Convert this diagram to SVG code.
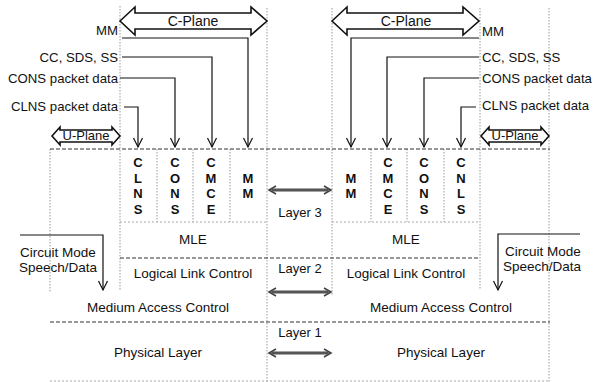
<svg xmlns="http://www.w3.org/2000/svg" width="594" height="382" viewBox="0 0 594 382">
<style>
text{font-family:"Liberation Sans",Arial,sans-serif;fill:#111}
.lbl{font-size:13.2px}
.t13{font-size:13px}
.t135{font-size:13.5px}
.cm{font-size:13.5px}
.mid{text-anchor:middle}
.end{text-anchor:end}
.col{font-size:13px;font-weight:bold;text-anchor:middle}
.vdot{stroke:#999;stroke-width:1;stroke-dasharray:1.5 1.5;fill:none}
.hdash{stroke:#333;stroke-width:1.2;stroke-dasharray:4 2;fill:none}
.hlight{stroke:#aaa;stroke-width:1;stroke-dasharray:2 2;fill:none}
.conn{stroke:#111;stroke-width:1.2;fill:none}
.plane{stroke:#111;stroke-width:1.6;fill:#fff}
.larr{stroke:#888;stroke-width:3.5;fill:none}
.larri{stroke:#222;stroke-width:1.1;fill:none}
</style>
<defs>
<marker id="ah" markerUnits="userSpaceOnUse" markerWidth="12" markerHeight="12" viewBox="0 0 12 12" refX="10" refY="6" orient="auto">
<path d="M1,1.5 L10,6 L1,10.5" fill="none" stroke="#111" stroke-width="1.2"/>
</marker>
</defs>
<rect width="594" height="382" fill="#fff"/>

<g id="grid">
<path class="vdot" d="M120,6V290 M267,8V382 M332,8V295 M480,8V290 M549,8V382 M50,149V292"/>
<path class="vdot" d="M157,149V222 M193,149V222 M230,149V222 M371,149V222 M407,149V222 M444,149V222"/>
<path class="hlight" d="M120,222H267 M332,222H480"/>
<path class="hdash" d="M50,149H550 M120,258H480 M50,322H550"/>
<path class="hlight" d="M50,381H550"/>
</g>

<g id="left-cplane">
<path class="plane" d="M120,21 L135,7 L135,13 L251,13 L251,7 L267,21 L251,35 L251,29 L135,29 L135,35 Z"/>
<text class="mid" x="193" y="26" style="font-size:14px">C-Plane</text>
</g>
<g id="right-cplane">
<path class="plane" d="M332,21 L347,7 L347,13 L463,13 L463,7 L479,21 L463,35 L463,29 L347,29 L347,35 Z"/>
<text class="mid" x="406" y="26" style="font-size:14px">C-Plane</text>
</g>
<g id="left-uplane">
<path class="plane" d="M52,136 L60,127 L60,130 L112,130 L112,127 L120,136 L112,145 L112,142 L60,142 L60,145 Z"/>
<text class="mid t13" x="86" y="140">U-Plane</text>
</g>
<g id="right-uplane">
<path class="plane" d="M481,136 L489,127 L489,130 L541,130 L541,127 L549,136 L541,145 L541,142 L489,142 L489,145 Z"/>
<text class="mid t13" x="515" y="140">U-Plane</text>
</g>

<g id="left-labels">
<text class="lbl end" x="118" y="35">MM</text>
<text class="lbl end" x="118" y="62">CC, SDS, SS</text>
<text class="lbl end" x="118" y="83">CONS packet data</text>
<text class="lbl end" x="118" y="111">CLNS packet data</text>
</g>
<g id="right-labels">
<text class="lbl" x="482" y="36">MM</text>
<text class="lbl" x="482" y="62">CC, SDS, SS</text>
<text class="lbl" x="482" y="83">CONS packet data</text>
<text class="lbl" x="482" y="110">CLNS packet data</text>
</g>

<g id="left-clns"><text class="col" x="138"><tspan x="138" y="167">C</tspan><tspan x="138" y="183">L</tspan><tspan x="138" y="198">N</tspan><tspan x="138" y="214">S</tspan></text></g>
<g id="left-cons"><text class="col" x="175"><tspan x="175" y="167">C</tspan><tspan x="175" y="183">O</tspan><tspan x="175" y="198">N</tspan><tspan x="175" y="214">S</tspan></text></g>
<g id="left-cmce"><text class="col" x="211"><tspan x="211" y="167">C</tspan><tspan x="211" y="183">M</tspan><tspan x="211" y="198">C</tspan><tspan x="211" y="214">E</tspan></text></g>
<g id="left-mm"><text class="col" x="248"><tspan x="248" y="183">M</tspan><tspan x="248" y="198">M</tspan></text></g>

<g id="right-mm"><text class="col" x="351"><tspan x="351" y="183">M</tspan><tspan x="351" y="198">M</tspan></text></g>
<g id="right-cmce"><text class="col" x="388"><tspan x="388" y="167">C</tspan><tspan x="388" y="183">M</tspan><tspan x="388" y="198">C</tspan><tspan x="388" y="214">E</tspan></text></g>
<g id="right-cons"><text class="col" x="424"><tspan x="424" y="167">C</tspan><tspan x="424" y="183">O</tspan><tspan x="424" y="198">N</tspan><tspan x="424" y="214">S</tspan></text></g>
<g id="right-cnls"><text class="col" x="461"><tspan x="461" y="167">C</tspan><tspan x="461" y="183">N</tspan><tspan x="461" y="198">L</tspan><tspan x="461" y="214">S</tspan></text></g>

<g id="left-mle"><text class="mid t135" x="193" y="244">MLE</text></g>
<g id="right-mle"><text class="mid t135" x="406" y="244">MLE</text></g>
<g id="left-llc"><text class="mid t135" x="193" y="278">Logical Link Control</text></g>
<g id="right-llc"><text class="mid t135" x="406" y="278">Logical Link Control</text></g>
<g id="left-mac"><text class="mid t135" x="158" y="312">Medium Access Control</text></g>
<g id="right-mac"><text class="mid t135" x="441" y="312">Medium Access Control</text></g>
<g id="left-phy"><text class="mid cm" x="158" y="357">Physical Layer</text></g>
<g id="right-phy"><text class="mid cm" x="441" y="357">Physical Layer</text></g>

<g id="left-circuit">
<text class="cm" x="20" y="257">Circuit Mode</text>
<text class="cm" x="19" y="272">Speech/Data</text>
</g>
<g id="right-circuit">
<text class="cm" x="505" y="256">Circuit Mode</text>
<text class="cm" x="503" y="271">Speech/Data</text>
</g>

<g id="layers">
<text class="mid t13" x="300" y="217">Layer 3</text>
<text class="mid t13" x="300" y="273">Layer 2</text>
<text class="mid t13" x="300" y="337">Layer 1</text>
</g>

<g id="connectors">
<path class="conn" marker-end="url(#ah)" d="M122,38 H248 V147"/>
<path class="conn" marker-end="url(#ah)" d="M122,57 H212 V147"/>
<path class="conn" marker-end="url(#ah)" d="M120,78 H175 V147"/>
<path class="conn" marker-end="url(#ah)" d="M124,107 H138 V147"/>
<path class="conn" marker-end="url(#ah)" d="M479,38 H351 V147"/>
<path class="conn" marker-end="url(#ah)" d="M479,57 H387 V147"/>
<path class="conn" marker-end="url(#ah)" d="M479,78 H424 V147"/>
<path class="conn" marker-end="url(#ah)" d="M476,107 H461 V147"/>
<path class="conn" marker-end="url(#ah)" d="M20,235 H103 V290"/>
<path class="conn" marker-end="url(#ah)" d="M580,234 H498 V290"/>
<g id="layer-arrows">
<path class="larr" d="M272,190H328 M272,292H328 M272,353H328"/>
<path class="larri" d="M269,190H331 M269,292H331 M269,353H331"/>
<path class="larri" style="stroke-width:1.6;stroke:#444" d="M276,186L269,190L276,194 M324,186L331,190L324,194 M276,288L269,292L276,296 M324,288L331,292L324,296 M276,349L269,353L276,357 M324,349L331,353L324,357"/>
</g>
</g>
</svg>
